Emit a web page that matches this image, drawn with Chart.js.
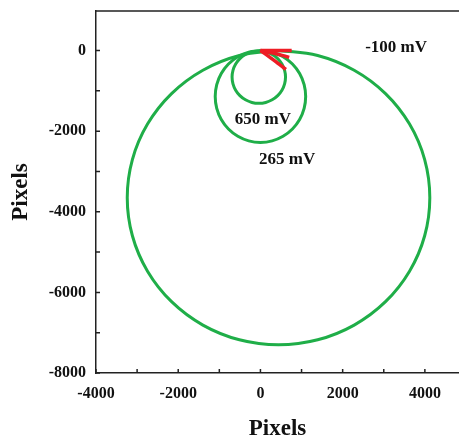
<!DOCTYPE html>
<html>
<head>
<meta charset="utf-8">
<script src="https://cdn.jsdelivr.net/npm/chart.js@4.4.1/dist/chart.umd.min.js"></script>
<style>
  html, body { margin: 0; padding: 0; background: #fff; overflow: hidden; }
  canvas { display: block; }
</style>
</head>
<body>
<canvas id="trajectory_chart" width="459" height="441"></canvas>
<script>
    "use strict";

    // traces (pixels)
    const trace_100 = [
        [440, 0], [1392, -124], [2280, -489], [3042, -1069], [3627, -1825], [3995, -2705],
        [4120, -3650], [3995, -4595], [3627, -5475], [3042, -6231], [2280, -6811], [1392, -7176],
        [440, -7300], [-512, -7176], [-1400, -6811], [-2162, -6231], [-2747, -5475], [-3115, -4595],
        [-3240, -3650], [-3115, -2705], [-2747, -1825], [-2162, -1069], [-1400, -489], [-512, -124],
        [440, 0]
    ];
    const trace_265 = [
        [0, 0], [285, -39], [550, -153], [778, -334], [953, -570], [1063, -845],
        [1100, -1140], [1063, -1435], [953, -1710], [778, -1946], [550, -2127], [285, -2241],
        [0, -2280], [-285, -2241], [-550, -2127], [-778, -1946], [-953, -1710], [-1063, -1435],
        [-1100, -1140], [-1063, -845], [-953, -570], [-778, -334], [-550, -153], [-285, -39],
        [0, 0]
    ];
    const trace_650 = [
        [-40, -10], [128, -32], [285, -97], [420, -200], [523, -335], [588, -492],
        [610, -660], [588, -828], [523, -985], [420, -1120], [285, -1223], [128, -1288],
        [-40, -1310], [-208, -1288], [-365, -1223], [-500, -1120], [-603, -985], [-668, -828],
        [-690, -660], [-668, -492], [-603, -335], [-500, -200], [-365, -97], [-208, -32],
        [-40, -10]
    ];
    const red_top = [[0, 0], [760, 0]];
    const red_mid = [[0, 0], [380, -80], [700, -170]];
    const red_low = [[0, 0], [340, -250], [620, -470]];

    const x_ticks = [-4000, -3000, -2000, -1000, 0, 1000, 2000, 3000, 4000];
    const y_ticks = [-8000, -7000, -6000, -5000, -4000, -3000, -2000, -1000, 0];

    const note_labels = ['-100 mV', '650 mV', '265 mV'];
    const note_x = [3300, 60, 650];
    const note_y = [70, -1710, -2700];

    const GREEN = '#1fae48';
    const RED = '#ee1c24';
    const SERIF = '"Liberation Serif", "Times New Roman", serif';

    function toPoints(arr) {
        return arr.map(function (p) { return { x: p[0], y: p[1] }; });
    }

    function greenSet(arr) {
        return {
            data: toPoints(arr),
            showLine: true,
            borderColor: GREEN,
            borderWidth: 3,
            pointRadius: 0,
            tension: 0.4,
            order: 2
        };
    }

    function redSet(arr) {
        return {
            data: toPoints(arr),
            showLine: true,
            borderColor: RED,
            borderWidth: 3.5,
            pointRadius: 0,
            tension: 0.3,
            order: 1
        };
    }

    // top frame line, inward tick marks and the mV notes
    const framePlugin = {
        id: 'frame',
        afterDraw: function (chart) {
            const ctx = chart.ctx;
            const area = chart.chartArea;
            const xs = chart.scales.x;
            const ys = chart.scales.y;
            ctx.save();
            ctx.strokeStyle = '#222';
            ctx.lineWidth = 1.5;
            ctx.beginPath();
            ctx.moveTo(area.left, area.top);
            ctx.lineTo(area.right, area.top);
            x_ticks.forEach(function (v) {
                const px = xs.getPixelForValue(v);
                ctx.moveTo(px, area.bottom);
                ctx.lineTo(px, area.bottom - 4);
            });
            y_ticks.forEach(function (v) {
                const py = ys.getPixelForValue(v);
                ctx.moveTo(area.left, py);
                ctx.lineTo(area.left + 4, py);
            });
            ctx.stroke();

            ctx.fillStyle = '#111';
            ctx.font = 'bold 17px ' + SERIF;
            ctx.textAlign = 'center';
            ctx.textBaseline = 'middle';
            note_labels.forEach(function (t, i) {
                ctx.fillText(t, xs.getPixelForValue(note_x[i]), ys.getPixelForValue(note_y[i]));
            });
            ctx.restore();
        }
    };

    new Chart(document.getElementById('trajectory_chart'), {
        type: 'scatter',
        data: {
            datasets: [
                greenSet(trace_100),
                greenSet(trace_265),
                greenSet(trace_650),
                redSet(red_top),
                redSet(red_mid),
                redSet(red_low)
            ]
        },
        options: {
            responsive: false,
            animation: false,
            layout: { padding: { top: 11, right: 0, bottom: 0, left: 0 } },
            plugins: {
                legend: { display: false },
                tooltip: { enabled: false }
            },
            scales: {
                x: {
                    type: 'linear',
                    min: -4000,
                    max: 4830,
                    afterBuildTicks: function (axis) {
                        axis.ticks = x_ticks.map(function (v) { return { value: v }; });
                    },
                    afterFit: function (axis) {
                        axis.height = 68;
                        axis.paddingLeft = 0;
                        axis.paddingRight = 0;
                    },
                    ticks: {
                        autoSkip: false,
                        maxRotation: 0,
                        padding: 11,
                        color: '#111',
                        font: { family: SERIF, size: 16, weight: 'bold' },
                        callback: function (v) { return v % 2000 === 0 ? String(v) : ''; }
                    },
                    grid: { display: false, drawTicks: false },
                    border: { display: true, color: '#222', width: 1.5 },
                    title: {
                        display: true,
                        text: 'Pixels',
                        color: '#111',
                        padding: { top: 0, bottom: 0 },
                        font: { family: SERIF, size: 23, weight: 'bold', lineHeight: 1 }
                    }
                },
                y: {
                    type: 'linear',
                    min: -8000,
                    max: 980,
                    afterBuildTicks: function (axis) {
                        axis.ticks = y_ticks.map(function (v) { return { value: v }; });
                    },
                    afterFit: function (axis) {
                        axis.width = 96;
                        axis.paddingTop = 0;
                        axis.paddingBottom = 0;
                    },
                    ticks: {
                        autoSkip: false,
                        padding: 10,
                        color: '#111',
                        font: { family: SERIF, size: 16, weight: 'bold' },
                        callback: function (v) { return v % 2000 === 0 ? String(v) : ''; }
                    },
                    grid: { display: false, drawTicks: false },
                    border: { display: true, color: '#222', width: 1.5 },
                    title: {
                        display: true,
                        text: 'Pixels',
                        color: '#111',
                        padding: { top: 10, bottom: 0 },
                        font: { family: SERIF, size: 23, weight: 'bold', lineHeight: 1 }
                    }
                }
            }
        },
        plugins: [framePlugin]
    });
</script>
</body>
</html>
